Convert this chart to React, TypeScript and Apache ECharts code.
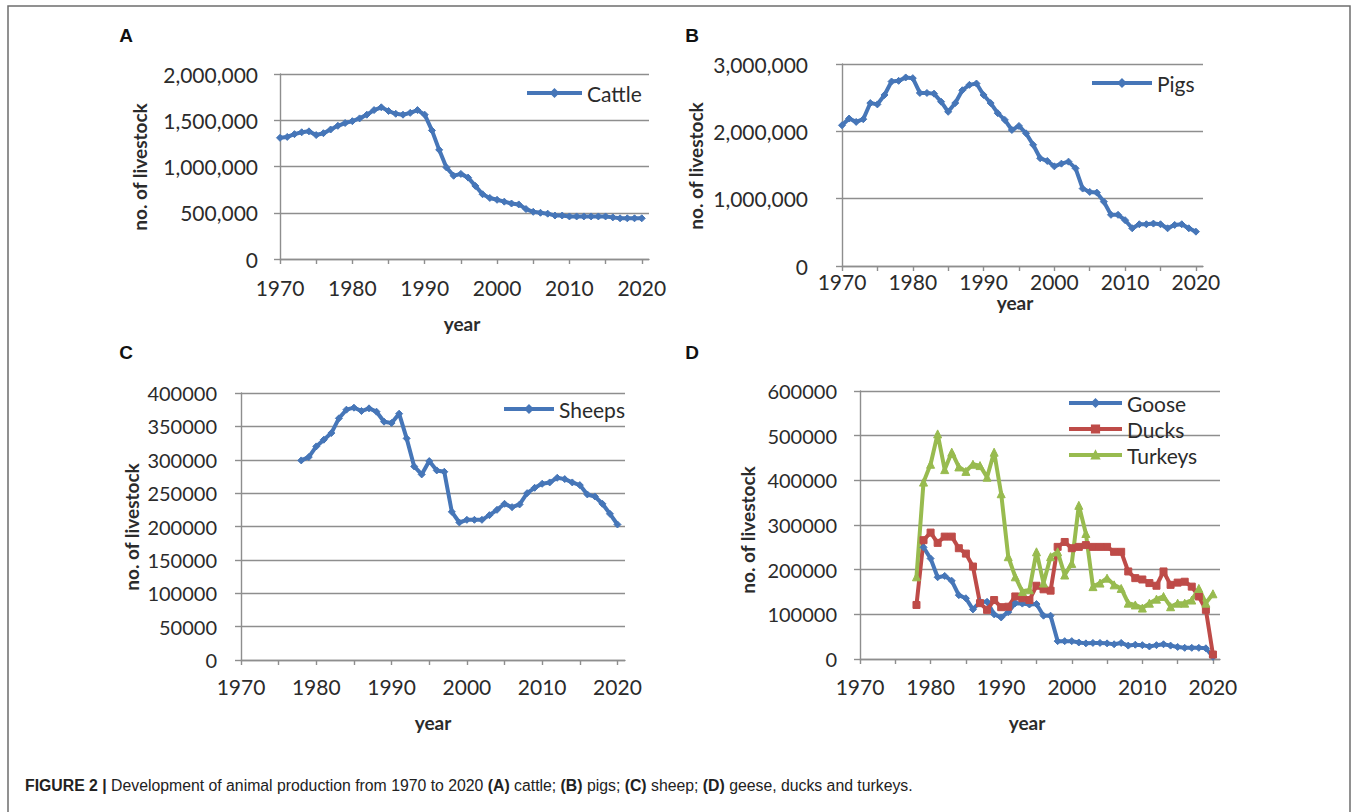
import React, { useEffect, useRef } from "react";
import * as echarts from "echarts";

// ---- data -------------------------------------------------------------
const CATTLE_FIRST_YEAR = 1970;
const cattle = [
  1310000, 1320000, 1350000, 1370000, 1380000, 1340000, 1360000, 1400000, 1440000, 1470000,
  1490000, 1520000, 1560000, 1610000, 1640000, 1600000, 1570000, 1560000, 1580000, 1610000,
  1560000, 1390000, 1180000, 990000, 900000, 920000, 880000, 790000, 700000, 660000,
  640000, 620000, 600000, 590000, 540000, 510000, 500000, 490000, 470000, 470000,
  460000, 460000, 460000, 460000, 460000, 460000, 450000, 440000, 440000, 440000, 440000,
];

const PIGS_FIRST_YEAR = 1970;
const pigs = [
  2090000, 2190000, 2140000, 2180000, 2420000, 2400000, 2540000, 2740000, 2750000, 2800000,
  2790000, 2570000, 2570000, 2560000, 2440000, 2290000, 2420000, 2610000, 2690000, 2710000,
  2540000, 2420000, 2270000, 2170000, 2020000, 2080000, 1970000, 1800000, 1600000, 1560000,
  1480000, 1520000, 1550000, 1450000, 1150000, 1100000, 1090000, 955000, 760000, 760000,
  680000, 560000, 620000, 620000, 630000, 620000, 560000, 610000, 620000, 560000, 510000,
];

const SHEEP_FIRST_YEAR = 1978;
const sheep = [
  299000, 304000, 320000, 330000, 340000, 362000, 375000, 378000, 373000, 377000,
  372000, 357000, 355000, 369000, 332000, 290000, 278000, 298000, 284000, 282000,
  222000, 206000, 210000, 210000, 210000, 217000, 225000, 234000, 229000, 233000,
  250000, 258000, 264000, 266000, 273000, 271000, 266000, 262000, 248000, 245000,
  234000, 219000, 203000,
];

const POULTRY_FIRST_YEAR = 1978;
const goose = [
  null, 250000, 225000, 183000, 186000, 175000, 143000, 136000, 111000, 128000,
  128000, 100000, 93000, 105000, 125000, 124000, 122000, 123000, 97000, 97000,
  40000, 40000, 40000, 37000, 35000, 36000, 36000, 35000, 33000, 36000,
  30000, 32000, 31000, 28000, 31000, 33000, 30000, 27000, 25000, 25000,
  25000, 24000, 5000,
];
const ducks = [
  121000, 266000, 283000, 260000, 274000, 274000, 248000, 236000, 207000, 125000,
  110000, 132000, 116000, 117000, 140000, 136000, 132000, 164000, 156000, 153000,
  251000, 262000, 248000, 251000, 255000, 251000, 251000, 251000, 240000, 240000,
  196000, 181000, 178000, 170000, 164000, 196000, 166000, 171000, 173000, 162000,
  140000, 110000, 10000,
];
const turkeys = [
  184000, 396000, 436000, 504000, 424000, 463000, 430000, 420000, 436000, 433000,
  407000, 463000, 370000, 229000, 184000, 151000, 155000, 240000, 170000, 229000,
  240000, 188000, 214000, 344000, 281000, 162000, 170000, 181000, 166000, 158000,
  125000, 121000, 114000, 125000, 134000, 140000, 117000, 125000, 125000, 132000,
  158000, 125000, 146000,
];

const yearLabels = [1970, 1980, 1990, 2000, 2010, 2020];
const yearTicks = [1970, 1975, 1980, 1985, 1990, 1995, 2000, 2005, 2010, 2015, 2020];

// ---- styling ----------------------------------------------------------
const FONT = "Lato, 'Open Sans', sans-serif";
const TEXT = "#2b2b2b";
const GRID_LINE = "#8e8e8e";
const BLUE = "#4676b8";
const RED = "#be4b48";
const GREEN = "#98bb4f";
const CAPTION_FONT = "'Liberation Sans', Arial, sans-serif";

const toPoints = (first: number, values: (number | null)[]) =>
  values.map((v, i) => [first + i, v]);

const withCommas = (v: number) => v.toLocaleString("en-US");

function xAxisFor(gridIndex: number, labelMargin: number) {
  return {
    type: "value",
    gridIndex,
    min: 1970,
    max: 2021,
    interval: 5,
    axisLine: { show: true, lineStyle: { color: GRID_LINE, width: 1.4 } },
    axisTick: {
      show: true,
      length: 5,
      customValues: yearTicks,
      lineStyle: { color: GRID_LINE, width: 1.4 },
    },
    axisLabel: {
      customValues: yearLabels,
      formatter: (v: number) => String(v),
      margin: labelMargin,
      fontSize: 21,
      fontFamily: FONT,
      color: TEXT,
    },
    splitLine: { show: false },
  };
}

function yAxisFor(
  gridIndex: number,
  max: number,
  interval: number,
  labelMargin: number,
  commas: boolean,
  fontSize: number
) {
  return {
    type: "value",
    gridIndex,
    min: 0,
    max,
    interval,
    axisLine: { show: true, lineStyle: { color: GRID_LINE, width: 1.4 } },
    axisTick: { show: true, length: 6, lineStyle: { color: GRID_LINE, width: 1.4 } },
    axisLabel: {
      formatter: (v: number) => (commas ? withCommas(v) : String(v)),
      margin: labelMargin,
      fontSize,
      fontFamily: FONT,
      color: TEXT,
    },
    splitLine: { show: true, lineStyle: { color: GRID_LINE, width: 1.4 } },
  };
}

function lineSeries(
  name: string,
  idx: number,
  data: (number | null)[][],
  color: string,
  symbol: string,
  symbolSize: number
) {
  return {
    name,
    type: "line",
    xAxisIndex: idx,
    yAxisIndex: idx,
    data,
    symbol,
    symbolSize,
    showSymbol: true,
    connectNulls: false,
    lineStyle: { color, width: 4 },
    itemStyle: { color, borderColor: color, borderWidth: 1 },
    emphasis: { disabled: true },
  };
}

function legendFor(names: string[], left: number, top: number, itemWidth: number) {
  return {
    data: names,
    left,
    top,
    orient: "vertical",
    itemWidth,
    itemHeight: 9,
    itemGap: 2,
    padding: 0,
    selectedMode: false,
    lineStyle: { width: 4 },
    textStyle: { fontSize: 21, lineHeight: 24, fontFamily: FONT, color: TEXT },
  };
}

const letter = (text: string, x: number, y: number) => ({
  type: "text",
  x,
  y,
  style: {
    text,
    fontSize: 19,
    fontWeight: "bold",
    fontFamily: CAPTION_FONT,
    fill: "#111",
    align: "center",
    verticalAlign: "middle",
  },
});

const yTitle = (x: number, y: number) => ({
  type: "text",
  x,
  y,
  rotation: Math.PI / 2,
  style: {
    text: "no. of livestock",
    fontSize: 19,
    fontWeight: "bold",
    fontFamily: FONT,
    fill: TEXT,
    align: "center",
    verticalAlign: "middle",
  },
});

const xTitle = (x: number, y: number) => ({
  type: "text",
  x,
  y,
  style: {
    text: "year",
    fontSize: 19,
    fontWeight: "bold",
    fontFamily: FONT,
    fill: TEXT,
    align: "center",
    verticalAlign: "middle",
  },
});

export default function App() {
  const ref = useRef<HTMLDivElement>(null);

  useEffect(() => {
    if (!ref.current) return;
    const chart = echarts.init(ref.current, undefined, { renderer: "svg" });

    const option = {
      animation: false,
      backgroundColor: "#ffffff",
      grid: [
        { left: 280, top: 74, width: 369, height: 185 },
        { left: 842, top: 64, width: 361, height: 202 },
        { left: 241, top: 393, width: 384, height: 267 },
        { left: 860, top: 391, width: 360, height: 268 },
      ],
      xAxis: [xAxisFor(0, 18), xAxisFor(1, 5), xAxisFor(2, 16), xAxisFor(3, 17)],
      yAxis: [
        yAxisFor(0, 2000000, 500000, 22, true, 21),
        yAxisFor(1, 3000000, 1000000, 34, true, 21),
        yAxisFor(2, 400000, 50000, 24, false, 20),
        yAxisFor(3, 600000, 100000, 23, false, 20),
      ],
      legend: [
        legendFor(["Cattle"], 525, 81, 55),
        legendFor(["Pigs"], 1090, 71, 60),
        legendFor(["Sheeps"], 502, 397, 50),
        legendFor(["Goose", "Ducks", "Turkeys"], 1067, 391, 53),
      ],
      series: [
        lineSeries("Cattle", 0, toPoints(CATTLE_FIRST_YEAR, cattle), BLUE, "diamond", 7),
        lineSeries("Pigs", 1, toPoints(PIGS_FIRST_YEAR, pigs), BLUE, "diamond", 7),
        lineSeries("Sheeps", 2, toPoints(SHEEP_FIRST_YEAR, sheep), BLUE, "diamond", 7),
        lineSeries("Goose", 3, toPoints(POULTRY_FIRST_YEAR, goose), BLUE, "diamond", 7),
        lineSeries("Ducks", 3, toPoints(POULTRY_FIRST_YEAR, ducks), RED, "rect", 7),
        lineSeries("Turkeys", 3, toPoints(POULTRY_FIRST_YEAR, turkeys), GREEN, "triangle", 8),
      ],
      graphic: [
        {
          type: "rect",
          shape: { x: 8, y: 6, width: 1342, height: 900 },
          style: { fill: "none", stroke: "#6e6e6e", lineWidth: 1.5 },
          silent: true,
        },
        letter("A", 126, 35),
        letter("B", 692, 35),
        letter("C", 126, 352),
        letter("D", 692, 352),
        yTitle(139, 167),
        yTitle(695, 166),
        yTitle(131, 527),
        yTitle(747, 530),
        xTitle(462, 323),
        xTitle(1015, 302),
        xTitle(433, 722),
        xTitle(1027, 722),
        {
          type: "text",
          x: 25,
          y: 785,
          style: {
            text: "{b|FIGURE 2 |} Development of animal production from 1970 to 2020 {b|(A)} cattle; {b|(B)} pigs; {b|(C)} sheep; {b|(D)} geese, ducks and turkeys.",
            fontSize: 15.8,
            fontFamily: CAPTION_FONT,
            fill: "#222",
            verticalAlign: "middle",
            rich: {
              b: {
                fontSize: 15.8,
                fontWeight: "bold",
                fontFamily: CAPTION_FONT,
                fill: "#222",
              },
            },
          },
        },
      ],
    };

    chart.setOption(option as any);
    return () => chart.dispose();
  }, []);

  return (
    <div
      ref={ref}
      style={{ position: "fixed", left: 0, top: 0, width: 1357, height: 812, background: "#fff" }}
    />
  );
}
